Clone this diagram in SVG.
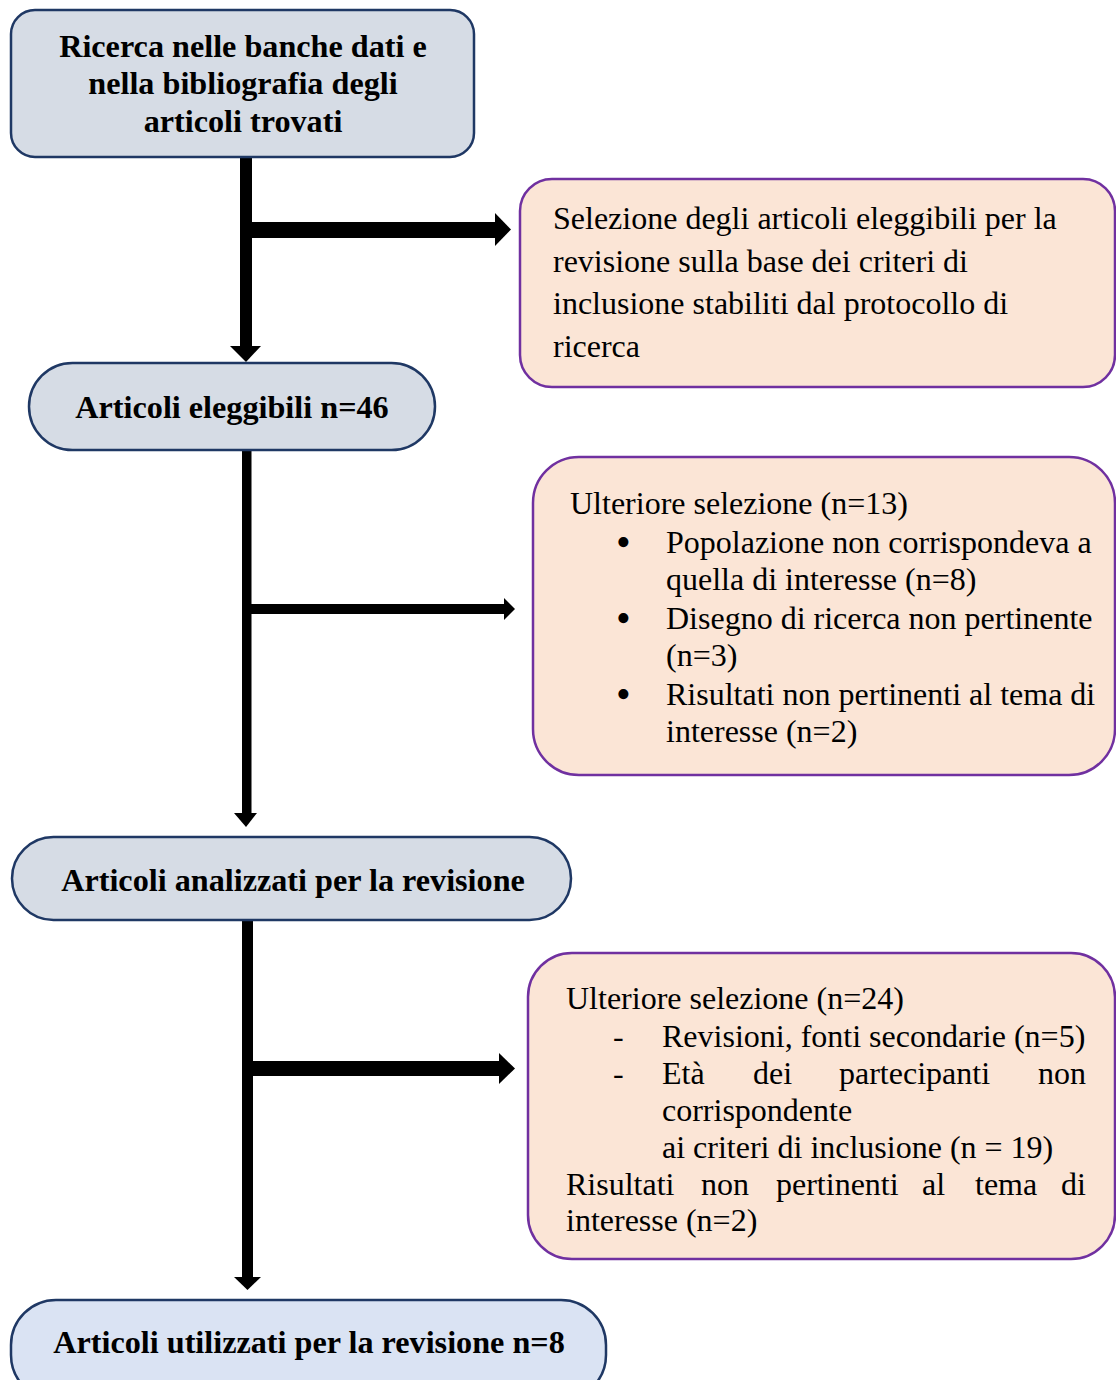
<svg xmlns="http://www.w3.org/2000/svg" width="1116" height="1380" viewBox="0 0 1116 1380">
<style>
.blue{fill:#d6dce5;stroke:#1f3864;stroke-width:2.5}
.blue2{fill:#dae3f3;stroke:#1f3864;stroke-width:2.5}
.pink{fill:#fbe5d6;stroke:#7030a0;stroke-width:2.5}
.t{font-family:"Liberation Serif","Times New Roman",serif;font-size:32px;fill:#000}
.bl{font-family:"Liberation Serif","Times New Roman",serif;font-size:42px;fill:#000}
.b{font-family:"Liberation Serif","Times New Roman",serif;font-size:32.2px;font-weight:bold;fill:#000;text-anchor:middle}
.e{text-anchor:end}
</style>
<rect width="1116" height="1380" fill="#fff"/>

<g id="connectors" fill="#000">
  <rect x="240" y="157" width="12" height="190"/>
  <polygon points="230,346 261,346 246,362"/>
  <rect x="252" y="222" width="244" height="16"/>
  <polygon points="495,213 495,246 511,229.5"/>
  <rect x="242" y="449" width="9.5" height="365"/>
  <polygon points="234,813 257,813 246,827"/>
  <rect x="251" y="604" width="254" height="10"/>
  <polygon points="504,598 504,620 515,609"/>
  <rect x="242" y="919" width="11" height="359"/>
  <polygon points="234,1277 261,1277 247.5,1290"/>
  <rect x="253" y="1061" width="247" height="15"/>
  <polygon points="499,1053 499,1084 515,1068.5"/>
</g>

<g id="n1">
  <rect class="blue" x="11" y="10" width="463" height="147" rx="24"/>
  <text class="b" x="243" y="57">Ricerca nelle banche dati e</text>
  <text class="b" x="243" y="94">nella bibliografia degli</text>
  <text class="b" x="243" y="132">articoli trovati</text>
</g>

<g id="n2">
  <rect class="pink" x="520" y="179" width="595" height="208" rx="32"/>
  <text class="t" x="553" y="229">Selezione degli articoli eleggibili per la</text>
  <text class="t" x="553" y="272">revisione sulla base dei criteri di</text>
  <text class="t" x="553" y="314">inclusione stabiliti dal protocollo di</text>
  <text class="t" x="553" y="357">ricerca</text>
</g>

<g id="n3">
  <rect class="blue" x="29" y="363" width="406" height="87" rx="43.5"/>
  <text class="b" x="232" y="418">Articoli eleggibili n=46</text>
</g>

<g id="n4">
  <rect class="pink" x="533" y="457" width="582" height="318" rx="46"/>
  <text class="t" x="570" y="514">Ulteriore selezione (n=13)</text>
  <text class="bl" x="616" y="556">•</text>
  <text class="t" x="666" y="553">Popolazione non corrispondeva a</text>
  <text class="t" x="666" y="590">quella di interesse (n=8)</text>
  <text class="bl" x="616" y="632">•</text>
  <text class="t" x="666" y="629">Disegno di ricerca non pertinente</text>
  <text class="t" x="666" y="666">(n=3)</text>
  <text class="bl" x="616" y="708">•</text>
  <text class="t" x="666" y="705">Risultati non pertinenti al tema di</text>
  <text class="t" x="666" y="742">interesse (n=2)</text>
</g>

<g id="n5">
  <rect class="blue" x="12" y="837" width="559" height="83" rx="41.5"/>
  <text class="b" x="293" y="891">Articoli analizzati per la revisione</text>
</g>

<g id="n6">
  <rect class="pink" x="528" y="953" width="587" height="306" rx="44"/>
  <text class="t" x="566" y="1009">Ulteriore selezione (n=24)</text>
  <text class="t" x="613" y="1047">-</text>
  <text class="t" x="662" y="1047">Revisioni, fonti secondarie (n=5)</text>
  <text class="t" x="613" y="1084">-</text>
  <text class="t" x="662" y="1084">Età</text>
  <text class="t" x="753" y="1084">dei</text>
  <text class="t" x="839" y="1084">partecipanti</text>
  <text class="t e" x="1086" y="1084">non</text>
  <text class="t" x="662" y="1121">corrispondente</text>
  <text class="t" x="662" y="1158">ai criteri di inclusione (n = 19)</text>
  <text class="t" x="566" y="1195">Risultati</text>
  <text class="t" x="701" y="1195">non</text>
  <text class="t" x="776" y="1195">pertinenti</text>
  <text class="t" x="922" y="1195">al</text>
  <text class="t" x="975" y="1195">tema</text>
  <text class="t e" x="1086" y="1195">di</text>
  <text class="t" x="566" y="1231">interesse (n=2)</text>
</g>

<g id="n7">
  <rect class="blue2" x="11" y="1300" width="595" height="100" rx="45"/>
  <text class="b" x="309" y="1353">Articoli utilizzati per la revisione n=8</text>
</g>
</svg>
